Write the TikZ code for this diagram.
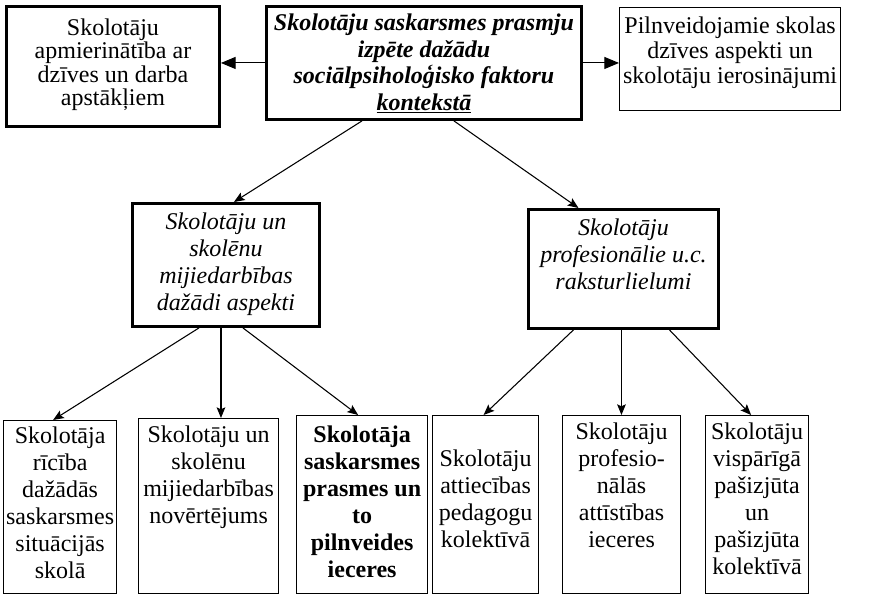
\documentclass[tikz,border=0pt]{standalone}
\usepackage{fontspec}
\setmainfont{Liberation Serif}
\usetikzlibrary{arrows.meta,calc}

% one drawing unit
\newdimen\pxu \pxu=0.75pt

% box content: width, height, gap above first line, line pitch, text
\newcommand\cellbox[5]{%
  \parbox[c][#2\pxu][t]{#1\pxu}{\fontsize{18pt}{#4\pxu}\selectfont\centering
    \vspace*{#3\pxu}#5\par}}

\tikzset{
  thickbox/.style={draw, line width=2.2pt, inner sep=0pt, anchor=north west},
  thinbox/.style={draw, line width=0.9pt, inner sep=0pt, anchor=north west},
  link/.style={line width=0.8pt, -{Stealth[length=8pt,width=6.5pt,inset=1.5pt]}},
  sidelink/.style={line width=0.8pt, -{Triangle[length=11pt,width=9pt]}},
}

\begin{document}
\begin{tikzpicture}[x=0.75pt,y=-0.75pt]
\useasboundingbox (0,0) rectangle (869,595);

% top row
\node[thickbox] (L) at (5,5)
  {\cellbox{213}{120}{12}{23.5}{Skolotāju\\ apmierinātība ar\\ dzīves un darba\\ apstākļiem}};
\node[thickbox] (C) at (265,5)
  {\cellbox{315}{113}{7.5}{26.5}{\bfseries\itshape Skolotāju saskarsmes prasmju\\ izpēte dažādu\\ sociālpsiholoģisko faktoru\\ \underline{kontekstā}}};
\node[thinbox] (R) at (619,7)
  {\cellbox{221}{103}{9.5}{25}{Pilnveidojamie skolas\\ dzīves aspekti un\\ skolotāju ierosinājumi}};

% middle row
\node[thickbox] (ML) at (131,202)
  {\cellbox{187}{123}{9.5}{27}{\itshape Skolotāju un\\ skolēnu\\ mijiedarbības\\ dažādi aspekti}};
\node[thickbox] (MR) at (527,208)
  {\cellbox{190}{119}{9.5}{27}{\itshape Skolotāju\\ profesionālie u.c.\\ raksturlielumi}};

% bottom row
\node[thinbox] (B1) at (3,420)
  {\cellbox{113}{173}{6}{27}{Skolotāja\\ rīcība\\ dažādās\\ saskarsmes\\ situācijās\\ skolā}};
\node[thinbox] (B2) at (138,418)
  {\cellbox{140}{175}{7}{27}{Skolotāju un\\ skolēnu\\ mijiedarbības\\ novērtējums}};
\node[thinbox] (B3) at (296,415)
  {\cellbox{131}{178}{10.5}{27}{\bfseries Skolotāja\\ saskarsmes\\ prasmes un\\ to\\ pilnveides\\ ieceres}};
\node[thinbox] (B4) at (432,415)
  {\cellbox{106}{178}{34.5}{27}{Skolotāju\\ attiecības\\ pedagogu\\ kolektīvā}};
\node[thinbox] (B5) at (562,415)
  {\cellbox{118}{178}{7.5}{27}{Skolotāju\\ profesio-\\ nālās\\ attīstības\\ ieceres}};
\node[thinbox] (B6) at (705,415)
  {\cellbox{103}{178}{7.5}{27}{Skolotāju\\ vispārīgā\\ pašizjūta\\ un\\ pašizjūta\\ kolektīvā}};

% start points of the vertical connectors
\coordinate (mlv) at ($(ML.south)+(-5,0)$);
\coordinate (mrv) at ($(MR.south)+(-2,0)$);

% connectors
\draw[sidelink] (C.west) -- (C.west -| L.east);
\draw[sidelink] (C.east) -- (C.east -| R.west);

\draw[link] ($(C.south)+(-62,0)$) -- ($(ML.north)+(8,0)$);
\draw[link] ($(C.south)+(30,0)$) -- ($(MR.north)+(-45,0)$);

\draw[link] ($(ML.south)+(-27,0)$) -- ($(B1.north)+(-7,0)$);
\draw[link] (mlv) -- (mlv |- B2.north);
\draw[link] ($(ML.south)+(17,0)$) -- ($(B3.north)+(-4,0)$);

\draw[link] ($(MR.south)+(-50,0)$) -- ($(B4.north)+(-2,0)$);
\draw[link] (mrv) -- (mrv |- B5.north);
\draw[link] ($(MR.south)+(46,0)$) -- ($(B6.north)+(-6,0)$);
\end{tikzpicture}
\end{document}
